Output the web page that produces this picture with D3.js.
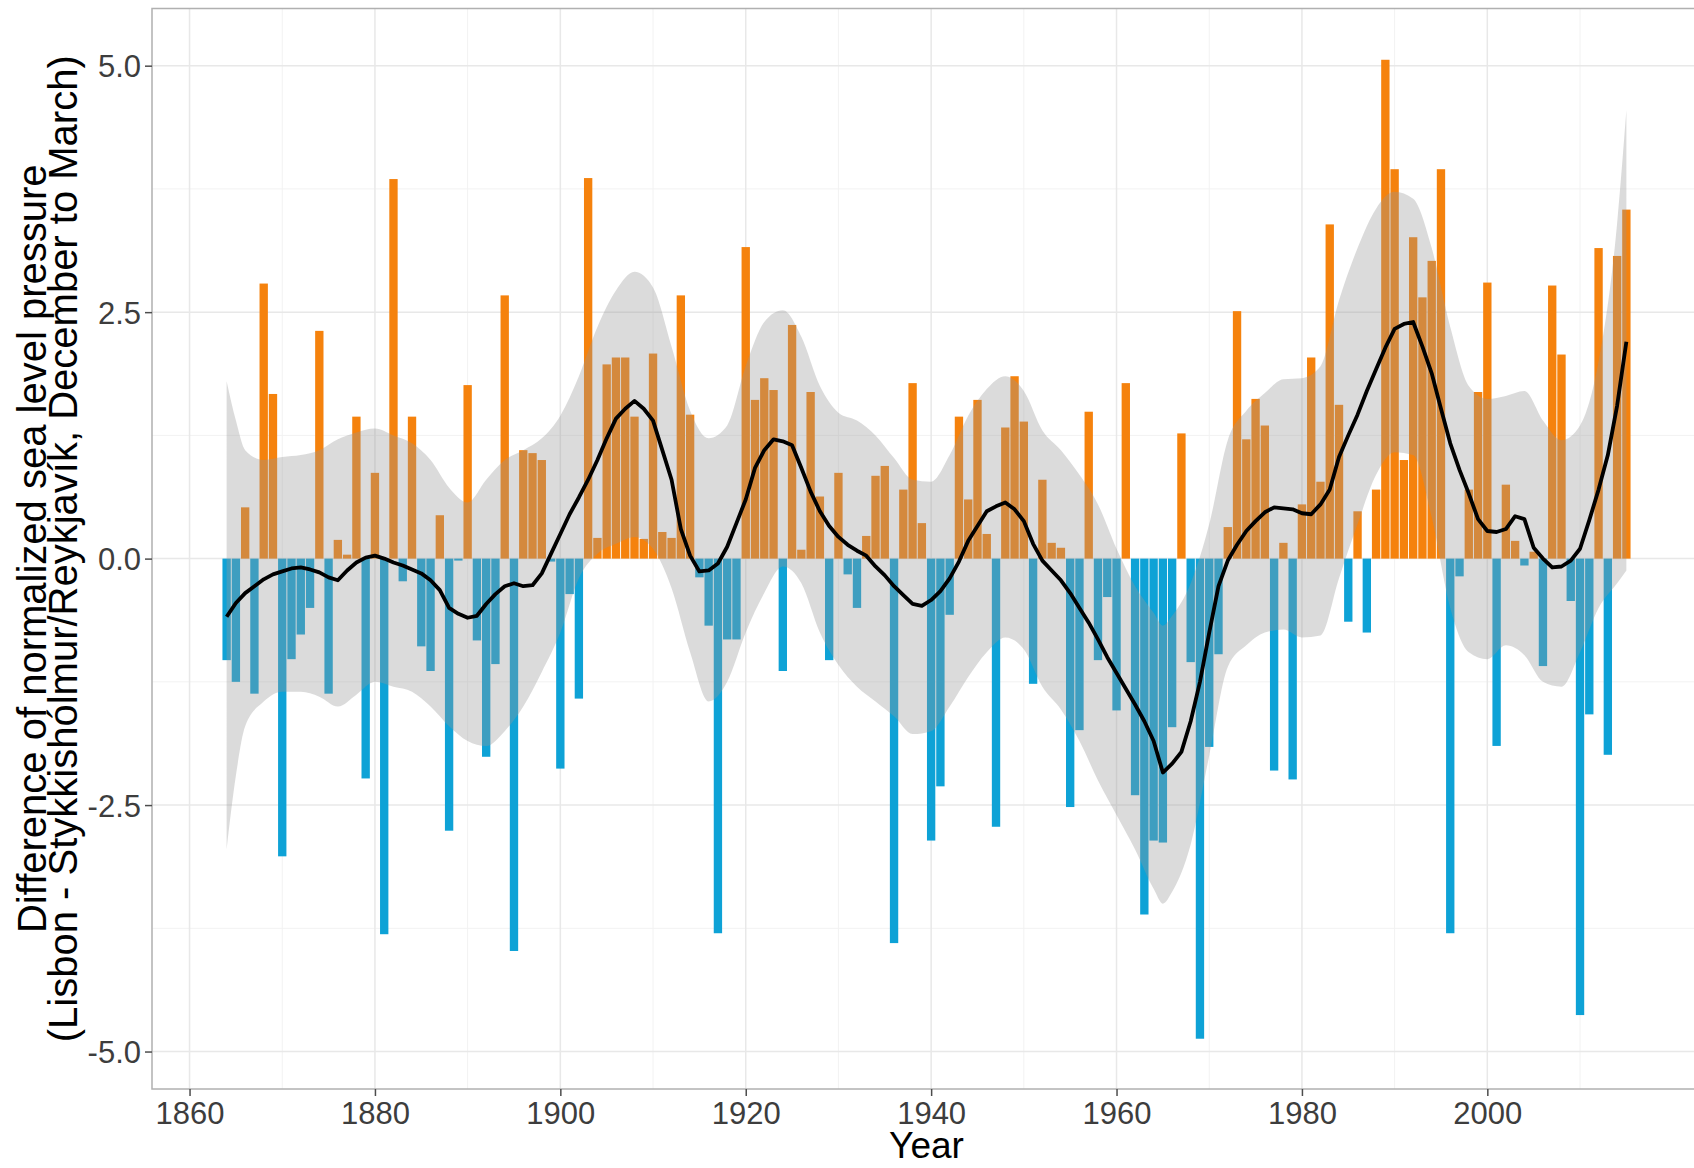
<!DOCTYPE html>
<html>
<head>
<meta charset="utf-8">
<script src="https://cdn.jsdelivr.net/npm/d3@7"></script>
<style>
  body { margin: 0; background: #fff; }
  text { font-family: "Liberation Sans", Arial, sans-serif; }
</style>
</head>
<body>
<script>
// winter NAO index, one bar per year (1864-2015)
var years = d3.range(1864, 2016);
var nao = [
  -1.03, -1.25, 0.52, -1.37, 2.79, 1.67, -3.02, -1.02, -0.77, -0.50,
  2.31, -1.37, 0.19, 0.04, 1.44, -2.23, 0.87, -3.81, 3.85, -0.23,
  1.44, -0.89, -1.14, 0.44, -2.76, -0.02, 1.76, -0.83, -2.01, -1.07,
  2.67, -3.98, 1.10, 1.07, 1.00, -0.03, -2.13, -0.36, -1.42, 3.86,
  0.21, 1.97, 2.04, 2.04, 1.44, 0.20, 2.08, 0.27, 0.21, 2.67,
  1.46, -0.19, -0.68, -3.80, -0.82, -0.82, 3.16, 1.61, 1.83, 1.71,
  -1.14, 2.37, 0.09, 1.69, 0.63, -1.03, 0.87, -0.16, -0.50, 0.23,
  0.84, 0.94, -3.90, 0.70, 1.78, 0.36, -2.86, -2.31, -0.57, 1.44,
  0.60, 1.61, 0.25, -2.72, 1.33, 1.85, 1.39, -1.27, 0.80, 0.16,
  0.11, -2.52, -1.74, 1.49, -1.03, -0.39, -1.54, 1.78, -2.40, -3.61,
  -2.86, -2.88, -1.71, 1.27, -1.05, -4.87, -1.91, -0.97, 0.32, 2.51,
  1.21, 1.62, 1.35, -2.15, 0.16, -2.24, 0.55, 2.04, 0.78, 3.39,
  1.56, -0.64, 0.48, -0.75, 0.70, 5.06, 3.95, 1.00, 3.26, 2.65,
  3.02, 3.95, -3.80, -0.18, 0.70, 1.69, 2.80, -1.90, 0.75, 0.18,
  -0.07, 0.07, -1.09, 2.77, 2.07, -0.43, -4.63, -1.58, 3.15, -1.99,
  3.07, 3.54
];

// smoothed curve, one point per year
var smooth = [
  -0.59, -0.45, -0.35, -0.28, -0.21, -0.16, -0.13, -0.10, -0.09, -0.11,
  -0.14, -0.19, -0.22, -0.12, -0.04, 0.01, 0.03, 0.00, -0.04, -0.07,
  -0.11, -0.15, -0.22, -0.32, -0.50, -0.56, -0.60, -0.58, -0.46, -0.36,
  -0.28, -0.25, -0.28, -0.27, -0.15, 0.05, 0.25, 0.45, 0.62, 0.80,
  1.00, 1.22, 1.42, 1.52, 1.60, 1.52, 1.40, 1.10, 0.80, 0.30,
  0.03, -0.13, -0.12, -0.05, 0.12, 0.36, 0.60, 0.92, 1.10, 1.21,
  1.19, 1.15, 0.92, 0.68, 0.48, 0.33, 0.22, 0.14, 0.08, 0.03,
  -0.08, -0.17, -0.28, -0.37, -0.46, -0.48, -0.42, -0.33, -0.20, -0.03,
  0.18, 0.33, 0.48, 0.53, 0.57, 0.50, 0.38, 0.15, -0.02, -0.12,
  -0.22, -0.35, -0.50, -0.65, -0.82, -1.00, -1.16, -1.32, -1.48, -1.65,
  -1.85, -2.17, -2.08, -1.96, -1.65, -1.25, -0.75, -0.28, -0.02, 0.14,
  0.28, 0.38, 0.47, 0.52, 0.51, 0.50, 0.46, 0.45, 0.55, 0.70,
  1.03, 1.25, 1.46, 1.70, 1.92, 2.14, 2.33, 2.38, 2.40, 2.15,
  1.88, 1.52, 1.17, 0.90, 0.66, 0.40, 0.28, 0.27, 0.30, 0.43,
  0.40, 0.11, 0.00, -0.09, -0.08, -0.02, 0.10, 0.39, 0.70, 1.05,
  1.55, 2.20
];

// confidence band of the smooth
var bandYears = [1864, 1865, 1866, 1868, 1870, 1872, 1874, 1876, 1878, 1880,
  1882, 1884, 1886, 1888, 1890, 1892, 1894, 1896, 1898, 1900,
  1902, 1904, 1906, 1908, 1910, 1912, 1914, 1916, 1918, 1920,
  1922, 1924, 1926, 1928, 1930, 1932, 1934, 1936, 1938, 1940,
  1942, 1944, 1946, 1948, 1950, 1952, 1954, 1956, 1958, 1960,
  1962, 1964, 1965, 1966, 1968, 1970, 1972, 1974, 1976, 1978,
  1980, 1982, 1984, 1986, 1988, 1990, 1992, 1994, 1996, 1998,
  2000, 2002, 2004, 2006, 2008, 2010, 2012, 2014, 2015];
var bandUpper = [1.80, 1.40, 1.10, 1.00, 1.03, 1.05, 1.10, 1.21, 1.28, 1.32,
  1.25, 1.17, 1.00, 0.72, 0.57, 0.80, 1.00, 1.10, 1.22, 1.45,
  1.85, 2.35, 2.72, 2.91, 2.75, 2.15, 1.50, 1.22, 1.35, 1.95,
  2.40, 2.52, 2.25, 1.75, 1.48, 1.40, 1.25, 1.02, 0.80, 0.78,
  1.05, 1.45, 1.72, 1.85, 1.70, 1.30, 1.10, 0.85, 0.55, 0.10,
  -0.28, -0.55, -0.68, -0.58, -0.25, 0.35, 1.20, 1.50, 1.68, 1.82,
  1.83, 1.95, 2.62, 3.15, 3.55, 3.72, 3.65, 3.15, 2.35, 1.75,
  1.62, 1.65, 1.70, 1.40, 1.20, 1.35, 2.00, 3.40, 4.55];
var bandLower = [-2.95, -2.20, -1.70, -1.45, -1.35, -1.35, -1.40, -1.50, -1.38, -1.25,
  -1.30, -1.35, -1.50, -1.70, -1.85, -1.90, -1.75, -1.50, -1.15, -0.75,
  -0.20, 0.05, 0.15, 0.22, 0.10, -0.30, -0.95, -1.45, -1.25, -0.75,
  -0.35, -0.08, -0.25, -0.75, -1.08, -1.30, -1.45, -1.60, -1.78, -1.75,
  -1.50, -1.20, -0.95, -0.80, -0.92, -1.30, -1.53, -1.85, -2.25, -2.60,
  -2.95, -3.35, -3.50, -3.38, -2.90, -2.00, -1.10, -0.88, -0.75, -0.72,
  -0.80, -0.78, -0.20, 0.35, 0.85, 1.08, 1.05, 0.42, -0.50, -0.95,
  -1.02, -0.88, -0.98, -1.25, -1.30, -0.95, -0.50, -0.25, -0.12];

var xTicks = [1860, 1880, 1900, 1920, 1940, 1960, 1980, 2000];
var xMinor = [1870, 1890, 1910, 1930, 1950, 1970, 1990, 2010];
var yTicks = [-5, -2.5, 0, 2.5, 5];
var yMinor = [-3.75, -1.25, 1.25, 3.75];

var W = 1694, H = 1168;
var pLeft = 152, pTop = 8.5, pRight = 1701, pBottom = 1089;

var x = d3.scaleLinear().domain([1855.95, 2023.05]).range([pLeft, pRight]);
var y = d3.scaleLinear().domain([-5.38, 5.58]).range([pBottom, pTop]);
var bw = (x(1) - x(0)) * 0.9;

var svg = d3.select("body").append("svg")
  .attr("width", W)
  .attr("height", H);

svg.append("clipPath").attr("id", "panel")
  .append("rect")
  .attr("x", pLeft).attr("y", pTop)
  .attr("width", pRight - pLeft).attr("height", pBottom - pTop);

var g = svg.append("g").attr("clip-path", "url(#panel)");

// grid
g.selectAll(".gminx").data(xMinor).enter().append("line")
  .attr("x1", function(d) { return x(d); }).attr("x2", function(d) { return x(d); })
  .attr("y1", pTop).attr("y2", pBottom)
  .attr("stroke", "#f2f2f2").attr("stroke-width", 1);
g.selectAll(".gminy").data(yMinor).enter().append("line")
  .attr("x1", pLeft).attr("x2", pRight)
  .attr("y1", function(d) { return y(d); }).attr("y2", function(d) { return y(d); })
  .attr("stroke", "#f2f2f2").attr("stroke-width", 1);
g.selectAll(".gx").data(xTicks).enter().append("line")
  .attr("x1", function(d) { return x(d); }).attr("x2", function(d) { return x(d); })
  .attr("y1", pTop).attr("y2", pBottom)
  .attr("stroke", "#e8e8e8").attr("stroke-width", 1.5);
g.selectAll(".gy").data(yTicks).enter().append("line")
  .attr("x1", pLeft).attr("x2", pRight)
  .attr("y1", function(d) { return y(d); }).attr("y2", function(d) { return y(d); })
  .attr("stroke", "#e8e8e8").attr("stroke-width", 1.5);

// bars
g.selectAll(".bar")
  .data(years)
  .enter().append("rect")
  .attr("class", "bar")
  .attr("x", function(d) { return x(d) - bw / 2; })
  .attr("width", bw)
  .attr("y", function(d, i) { return y(Math.max(0, nao[i])); })
  .attr("height", function(d, i) { return Math.abs(y(nao[i]) - y(0)); })
  .attr("fill", function(d, i) { return nao[i] >= 0 ? "#f5820d" : "#0ea2d6"; });

// confidence band
var area = d3.area()
  .x(function(d, i) { return x(bandYears[i]); })
  .y0(function(d, i) { return y(bandLower[i]); })
  .y1(function(d, i) { return y(bandUpper[i]); })
  .curve(d3.curveMonotoneX);
g.append("path")
  .datum(bandYears)
  .attr("d", area)
  .attr("fill", "#999999")
  .attr("fill-opacity", 0.35);

// smooth
var line = d3.line()
  .x(function(d) { return x(d); })
  .y(function(d, i) { return y(smooth[i]); });
g.append("path")
  .datum(years)
  .attr("d", line)
  .attr("fill", "none")
  .attr("stroke", "#000")
  .attr("stroke-width", 3.8)
  .attr("stroke-linejoin", "round");

// panel border
svg.append("rect")
  .attr("x", pLeft).attr("y", pTop)
  .attr("width", pRight - pLeft).attr("height", pBottom - pTop)
  .attr("fill", "none")
  .attr("stroke", "#b0b0b0")
  .attr("stroke-width", 1.5);

// axes (plain hyphen for negatives, as in the original)
var fmtY = function(d) { return d3.format(".1f")(d).replace("\u2212", "-"); };

var xAxis = svg.append("g")
  .attr("transform", "translate(0," + pBottom + ")")
  .call(d3.axisBottom(x).tickValues(xTicks).tickFormat(d3.format("d")).tickSize(7).tickPadding(6));
var yAxis = svg.append("g")
  .attr("transform", "translate(" + pLeft + ",0)")
  .call(d3.axisLeft(y).tickValues(yTicks).tickFormat(fmtY).tickSize(7).tickPadding(4));

[xAxis, yAxis].forEach(function(a) {
  a.select(".domain").remove();
  a.selectAll(".tick line").attr("stroke", "#4d4d4d").attr("stroke-width", 1.5);
  a.selectAll(".tick text")
    .attr("fill", "#3d3d3d")
    .style("font-size", "31px")
    .style("font-family", "'Liberation Sans', Arial, sans-serif");
});
yAxis.selectAll(".tick text").attr("dy", "0.36em");
xAxis.selectAll(".tick text").attr("dy", "0.72em");

// titles
svg.append("text")
  .attr("x", (pLeft + pRight) / 2)
  .attr("y", 1158)
  .attr("text-anchor", "middle")
  .style("font-size", "37px")
  .attr("fill", "#000")
  .text("Year");

var yt = svg.append("text")
  .attr("transform", "translate(0," + ((pTop + pBottom) / 2) + ") rotate(-90)")
  .attr("text-anchor", "middle")
  .style("font-size", "40px")
  .attr("fill", "#000");
yt.append("tspan").attr("x", 0).attr("y", 46)
  .text("Difference of normalized sea level pressure");
yt.append("tspan").attr("x", 0).attr("y", 77)
  .text("(Lisbon - Stykkishólmur/Reykjavík, December to March)");
</script>
</body>
</html>
